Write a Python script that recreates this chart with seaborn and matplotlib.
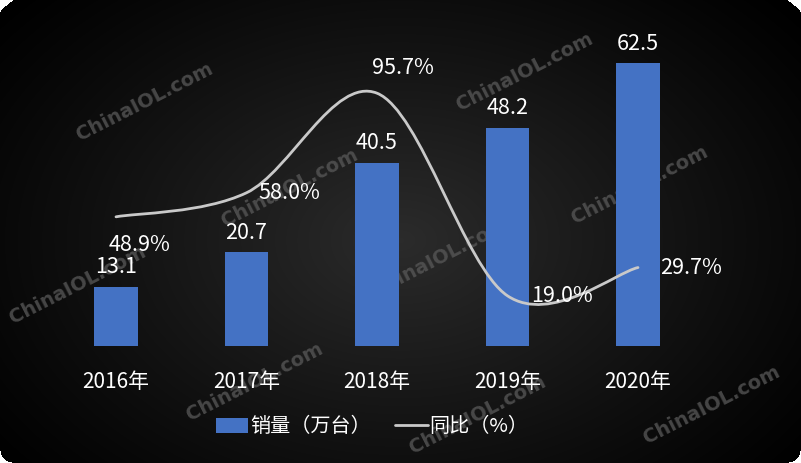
import numpy as np
import pandas as pd
import seaborn as sns
import matplotlib.pyplot as plt
from matplotlib.path import Path
from matplotlib.patches import PathPatch, Patch
from matplotlib.lines import Line2D

years = ["2016年", "2017年", "2018年", "2019年", "2020年"]
sales = [13.1, 20.7, 40.5, 48.2, 62.5]
yoy = [48.9, 58.0, 95.7, 19.0, 29.7]

BAR_COLOR = "#4472C4"
LINE_COLOR = "#c9c9c9"

sns.set_theme(style="white")
plt.rcParams['font.family'] = ['Noto Sans CJK SC', 'DejaVu Sans']

W, H = 801, 463
fig = plt.figure(figsize=(W / 100, H / 100), dpi=100)
fig.patch.set_facecolor("white")

# background: radial gradient with rounded corners
bg = fig.add_axes([0, 0, 1, 1], zorder=-10)
yy, xx = np.mgrid[0:H, 0:W]
d = np.sqrt(((xx - 400) / 520.0) ** 2 + ((yy - 240) / 360.0) ** 2)
lum = np.clip(0.17 * (1 - d) ** 1.1, 0, 1)
img = np.dstack([lum, lum, lum, np.ones_like(lum)])
r = 12
for cx, cy in [(r, r), (W - r - 1, r), (r, H - r - 1), (W - r - 1, H - r - 1)]:
    mask = (np.sqrt((xx - cx) ** 2 + (yy - cy) ** 2) > r) & \
           (np.abs(xx - cx) < r + 1) & (np.abs(yy - cy) < r + 1) & \
           (((xx < r) | (xx > W - r - 1)) & ((yy < r) | (yy > H - r - 1)))
    img[mask] = [1, 1, 1, 1]
bg.imshow(img, aspect="auto", interpolation="bilinear")
bg.axis("off")

# watermarks
marks = [(145, 102), (525, 72), (78, 285), (290, 188), (440, 258),
         (640, 185), (255, 382), (478, 415), (712, 405)]
for mx, my in marks:
    fig.text(mx / W, 1 - my / H, "ChinaIOL.com", rotation=27, ha="center", va="center",
             fontsize=14, fontweight="bold", color="#5a5a5a", alpha=0.75,
             family="DejaVu Sans", zorder=-5)

ax = fig.add_axes([50.75 / W, 117 / H, 652.5 / W, 317 / H])
ax.patch.set_alpha(0)
df = pd.DataFrame({"year": years, "sales": sales})
sns.barplot(data=df, x="year", y="sales", color=BAR_COLOR, saturation=1,
            width=0.337, ax=ax, zorder=2, edgecolor="none", linewidth=0)
ax.set_xlim(-0.5, 4.5)
ax.set_ylim(0, 70)
ax.set_xlabel("")
ax.set_ylabel("")
ax.set_yticks([])
ax.tick_params(axis="x", colors="white", labelsize=15, length=0, pad=18)
for s in ax.spines.values():
    s.set_visible(False)
for i, v in enumerate(sales):
    ax.annotate(f"{v}", (i, v), xytext=(0, 14), textcoords="offset points",
                ha="center", va="center", color="white", fontsize=15.5)

ax2 = ax.twinx()
ax2.set_ylim(0, 120)
ax2.set_yticks([])
for s in ax2.spines.values():
    s.set_visible(False)

# smoothed line (Catmull-Rom style bezier through the data points)
pts = np.column_stack([np.arange(len(yoy)), yoy]).astype(float)
verts = [tuple(pts[0])]
codes = [Path.MOVETO]
n = len(pts)
for i in range(n - 1):
    p0 = pts[max(i - 1, 0)]
    p1 = pts[i]
    p2 = pts[i + 1]
    p3 = pts[min(i + 2, n - 1)]
    c1 = p1 + (p2 - p0) / 6.0
    c2 = p2 - (p3 - p1) / 6.0
    verts += [tuple(c1), tuple(c2), tuple(p2)]
    codes += [Path.CURVE4] * 3
ax2.add_patch(PathPatch(Path(verts, codes), facecolor="none", edgecolor=LINE_COLOR,
                        lw=2, capstyle="round", zorder=3))

offsets = [(17, -20), (31, 0), (19, 18), (39, 0), (38, 0)]
for i, (v, off) in enumerate(zip(yoy, offsets)):
    ax2.annotate(f"{v:.1f}%", (i, v), xytext=off, textcoords="offset points",
                 ha="center", va="center", color="white", fontsize=15.5)

handles = [Patch(facecolor=BAR_COLOR, edgecolor="none"),
           Line2D([0], [0], color=LINE_COLOR, lw=2)]
leg = fig.legend(handles, ["销量（万台）", "同比（%）"], loc="center",
                 bbox_to_anchor=(0.465, 1 - 427 / H), ncol=2, frameon=False,
                 fontsize=14.5, handlelength=1.6, handletextpad=0.1,
                 columnspacing=1.2)
for t in leg.get_texts():
    t.set_color("white")

fig.savefig("out.png", dpi=100, facecolor=fig.get_facecolor())
